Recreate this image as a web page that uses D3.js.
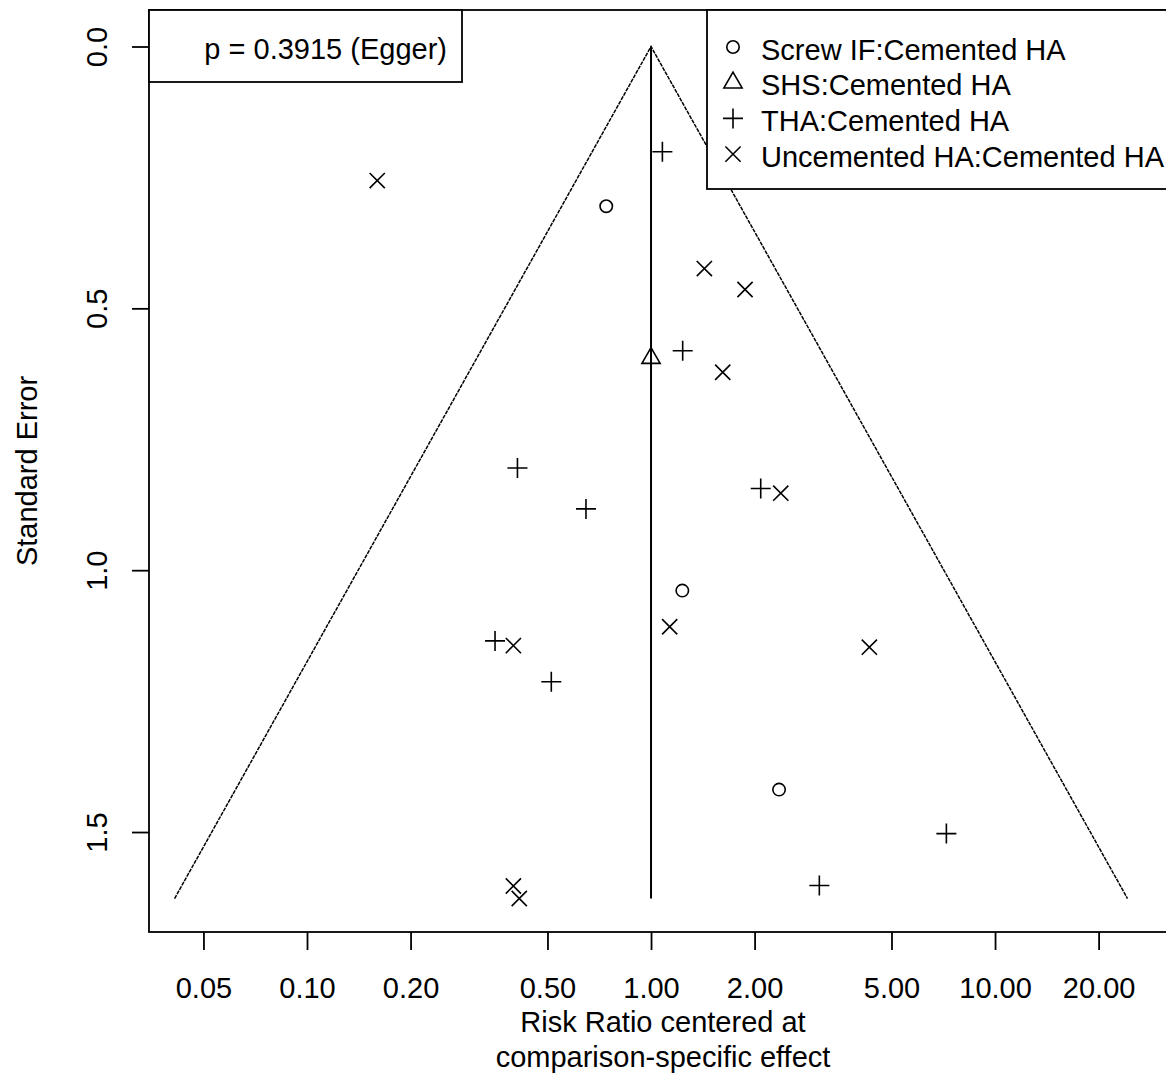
<!DOCTYPE html>
<html>
<head>
<meta charset="utf-8">
<script src="https://cdn.jsdelivr.net/npm/d3@7"></script>
<style>
body { margin: 0; background: #fff; }
text { font-family: "Liberation Sans", Arial, sans-serif; fill: #000; }
</style>
</head>
<body>
<div id="chart-area"></div>
<script>

// comparisons shown in the funnel plot
var groups = ["Screw IF:Cemented HA", "SHS:Cemented HA", "THA:Cemented HA", "Uncemented HA:Cemented HA"];
var shapes = ["circle", "triangle", "plus", "cross"];

// centered risk ratios and standard errors, one pair of arrays per comparison
var screwRR = [0.741, 1.233, 2.356];
var screwSE = [0.305, 1.039, 1.419];

var shsRR = [1.00];
var shsSE = [0.595];

var thaRR = [1.079, 1.236, 0.409, 0.647, 2.084, 0.352, 0.513, 7.22, 3.085];
var thaSE = [0.201, 0.581, 0.805, 0.883, 0.844, 1.135, 1.213, 1.503, 1.602];

var uncRR = [0.160, 1.552, 1.429, 1.876, 1.616, 2.383, 1.133, 0.398, 4.312, 0.398, 0.414];
var uncSE = [0.256, 0.255, 0.424, 0.464, 0.622, 0.853, 1.108, 1.144, 1.147, 1.603, 1.627];

var xTicks = [0.05, 0.1, 0.2, 0.5, 1, 2, 5, 10, 20];
var xTickLabels = ["0.05", "0.10", "0.20", "0.50", "1.00", "2.00", "5.00", "10.00", "20.00"];
var yTicks = [0, 0.5, 1, 1.5];
var yTickLabels = ["0.0", "0.5", "1.0", "1.5"];

var pLabel = "p = 0.3915 (Egger)";
var xTitle = ["Risk Ratio centered at", "comparison-specific effect"];
var yTitle = "Standard Error";
var refRR = 1;

var series = [
    { rr: screwRR, se: screwSE },
    { rr: shsRR, se: shsSE },
    { rr: thaRR, se: thaSE },
    { rr: uncRR, se: uncSE }
];

var margin = { left: 149, right: -11, top: 10, bottom: 144 },
    width = 1166 - margin.left - margin.right,
    height = 1076 - margin.top - margin.bottom;

var svg = d3.select("#chart-area").append("svg")
    .attr("width", 1166)
    .attr("height", 1076);

svg.append("rect")
    .attr("width", 1166)
    .attr("height", 1076)
    .attr("fill", "#fff");

var g = svg.append("g")
    .attr("transform", "translate(" + margin.left + "," + margin.top + ")");

// Scales
var x = d3.scaleLog().domain([0.03473, 33.8]).range([0, width]);
var y = d3.scaleLinear().domain([-0.0697, 1.6909]).range([0, height]);

// R style point symbols
function symbolPath(shape) {
    var p = d3.path();
    if (shape == "circle") {
        p.moveTo(6.2, 0);
        p.arc(0, 0, 6.2, 0, 2 * Math.PI);
    } else if (shape == "triangle") {
        var r = 10.5;
        p.moveTo(0, -r);
        p.lineTo(0.866 * r, r / 2);
        p.lineTo(-0.866 * r, r / 2);
        p.closePath();
    } else if (shape == "plus") {
        var h = 10;
        p.moveTo(-h, 0); p.lineTo(h, 0);
        p.moveTo(0, -h); p.lineTo(0, h);
    } else {
        var c = 7.6;
        p.moveTo(-c, -c); p.lineTo(c, c);
        p.moveTo(-c, c); p.lineTo(c, -c);
    }
    return p.toString();
}

// Funnel
var seMax = d3.max(series, function (s) { return d3.max(s.se); });
var lo = Math.exp(-1.96 * seMax) * refRR,
    hi = Math.exp(1.96 * seMax) * refRR;

var funnelLine = d3.line()
    .x(function (d) { return x(d[0]); })
    .y(function (d) { return y(d[1]); });

g.append("path")
    .attr("d", funnelLine([[lo, seMax], [refRR, 0], [hi, seMax]]))
    .attr("fill", "none")
    .attr("stroke", "#000")
    .attr("stroke-width", 1.5)
    .attr("stroke-dasharray", "4,1");

g.append("line")
    .attr("x1", x(refRR)).attr("x2", x(refRR))
    .attr("y1", y(0)).attr("y2", y(seMax))
    .attr("stroke", "#000")
    .attr("stroke-width", 2);

// Points
series.forEach(function (s, i) {
    g.selectAll(".pt" + i)
        .data(s.rr)
        .enter().append("path")
        .attr("class", "pt" + i)
        .attr("transform", function (d, j) {
            return "translate(" + x(d) + "," + y(s.se[j]) + ")";
        })
        .attr("d", symbolPath(shapes[i]))
        .attr("fill", "none")
        .attr("stroke", "#000")
        .attr("stroke-width", 1.6);
});

// Axes
var xAxisCall = d3.axisBottom(x)
    .tickValues(xTicks)
    .tickSize(18)
    .tickPadding(27)
    .tickFormat(function (d, i) { return xTickLabels[i]; });

var xAxis = g.append("g")
    .attr("transform", "translate(0," + height + ")")
    .call(xAxisCall);
xAxis.select(".domain").remove();
xAxis.selectAll("line").attr("stroke", "#000").attr("stroke-width", 1.8);
xAxis.selectAll("text").attr("font-size", 29).attr("font-family", null);

var yAxisCall = d3.axisLeft(y)
    .tickValues(yTicks)
    .tickSize(17)
    .tickFormat(function (d, i) { return yTickLabels[i]; });

var yAxis = g.append("g").call(yAxisCall);
yAxis.select(".domain").remove();
yAxis.selectAll("line").attr("stroke", "#000").attr("stroke-width", 1.8);
yAxis.selectAll("text")
    .attr("font-size", 29)
    .attr("font-family", null)
    .attr("transform", "rotate(-90)")
    .attr("text-anchor", "middle")
    .attr("x", 0)
    .attr("y", -42)
    .attr("dy", 0);

// Box round the plot
g.append("rect")
    .attr("x", 0).attr("y", 0)
    .attr("width", width).attr("height", height)
    .attr("fill", "none")
    .attr("stroke", "#000")
    .attr("stroke-width", 1.8);

// Titles
g.selectAll(".x-title")
    .data(xTitle)
    .enter().append("text")
    .attr("class", "x-title")
    .attr("x", width / 2)
    .attr("y", function (d, i) { return height + 100 + i * 35; })
    .attr("text-anchor", "middle")
    .attr("font-size", 29)
    .text(function (d) { return d; });

svg.append("text")
    .attr("transform", "translate(37," + (margin.top + height / 2) + ") rotate(-90)")
    .attr("text-anchor", "middle")
    .attr("font-size", 29)
    .text(yTitle);

// Egger p-value box
g.append("rect")
    .attr("x", 0).attr("y", 0)
    .attr("width", 313).attr("height", 72)
    .attr("fill", "#fff")
    .attr("stroke", "#000")
    .attr("stroke-width", 1.8);

g.append("text")
    .attr("x", 298)
    .attr("y", 49)
    .attr("text-anchor", "end")
    .attr("font-size", 29)
    .text(pLabel);

// Legend
var legend = g.append("g")
    .attr("transform", "translate(" + (707 - margin.left) + ",0)");

legend.append("rect")
    .attr("x", 0).attr("y", 0)
    .attr("width", 470).attr("height", 179)
    .attr("fill", "#fff")
    .attr("stroke", "#000")
    .attr("stroke-width", 1.8);

var rows = legend.selectAll(".row")
    .data(groups)
    .enter().append("g")
    .attr("class", "row")
    .attr("transform", function (d, i) { return "translate(0," + (37 + i * 35.7) + ")"; });

rows.append("path")
    .attr("transform", "translate(26,0)")
    .attr("d", function (d, i) { return symbolPath(shapes[i]); })
    .attr("fill", "none")
    .attr("stroke", "#000")
    .attr("stroke-width", 1.6);

rows.append("text")
    .attr("x", 54)
    .attr("y", 12.5)
    .attr("font-size", 29)
    .text(function (d) { return d; });

</script>
</body>
</html>
